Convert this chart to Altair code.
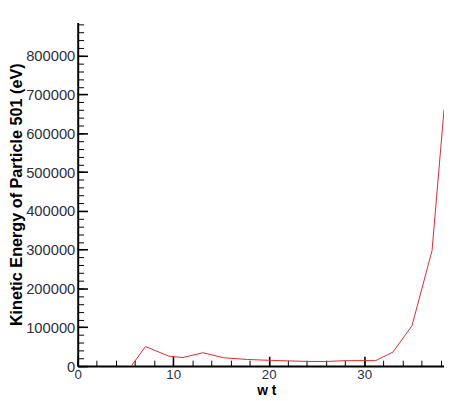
import altair as alt
import pandas as pd

# ---- data ----
wt = [5.6, 7.1, 9.5, 11.0, 13.1, 15.3, 17.8, 20.0, 22.0, 24.1, 26.0, 28.0, 30.1, 31.2, 33.0, 35.0, 37.1, 38.35]
ke = [0, 50500, 26000, 22000, 34500, 21500, 17000, 15000, 13500, 12000, 12000, 14000, 14200, 14200, 36000, 104000, 298000, 661000]

x_major = [0, 10, 20, 30]
x_minor = list(range(0, 39, 2))
y_major = [0, 100000, 200000, 300000, 400000, 500000, 600000, 700000, 800000]
y_minor = list(range(0, 880001, 20000))

x_title = "w t"
y_title = "Kinetic Energy of Particle 501 (eV)"

df = pd.DataFrame({"wt": wt, "ke": ke})

FONT = "Liberation Sans"
LABEL_COLOR = "#30303c"

xs = alt.Scale(domain=[0, 38.35], nice=False, zero=False)
ys = alt.Scale(domain=[0, 886000], nice=False, zero=False)

base = alt.Chart(df)

main = base.mark_line(color="#e3262c", strokeWidth=1, clip=True).encode(
    x=alt.X("wt:Q", scale=xs, axis=alt.Axis(
        orient="bottom", values=x_major, ticks=False, tickSize=0, grid=False,
        domain=True, domainColor="black", domainWidth=2,
        labelFlush=False, labelPadding=2, labelFont=FONT, labelFontSize=13.5,
        labelColor=LABEL_COLOR,
        title=x_title, titleFont=FONT, titleFontSize=14, titleFontWeight="bold",
        titleColor="black", titleBaseline="alphabetic", titleY=29, titleX=192)),
    y=alt.Y("ke:Q", scale=ys, axis=alt.Axis(
        orient="left", values=y_major, format="d", ticks=False, tickSize=0, grid=False,
        domain=True, domainColor="black", domainWidth=2,
        labelFlush=False, labelPadding=3, labelFont=FONT, labelFontSize=15,
        labelColor=LABEL_COLOR,
        title=y_title, titleFont=FONT, titleFontSize=16.5, titleFontWeight="bold",
        titleColor="black", titlePadding=1)),
)


def tick_layer(xvals, yvals, size, width):
    return base.mark_line(strokeOpacity=0).encode(
        x=alt.X("wt:Q", scale=xs, axis=alt.Axis(
            orient="bottom", values=xvals, offset=-size, tickSize=size,
            tickWidth=width, tickColor="black", labels=False, domain=False,
            grid=False, title="")),
        y=alt.Y("ke:Q", scale=ys, axis=alt.Axis(
            orient="left", values=yvals, offset=-size, tickSize=size,
            tickWidth=width, tickColor="black", labels=False, domain=False,
            grid=False, title="")),
    )


major = tick_layer(x_major, y_major, 10, 1.6)
minor = tick_layer(x_minor, y_minor, 6, 1)

chart = (
    alt.layer(main, minor, major)
    .resolve_axis(x="independent", y="independent")
    .properties(
        width=373,
        height=350,
        autosize=alt.AutoSizeParams(type="none"),
        padding={"left": 71, "top": 11, "right": 0, "bottom": 40},
        background="white",
    )
    .configure_view(stroke="transparent")
)

chart.save("out.html", embed_options={"renderer": "svg", "actions": False})
